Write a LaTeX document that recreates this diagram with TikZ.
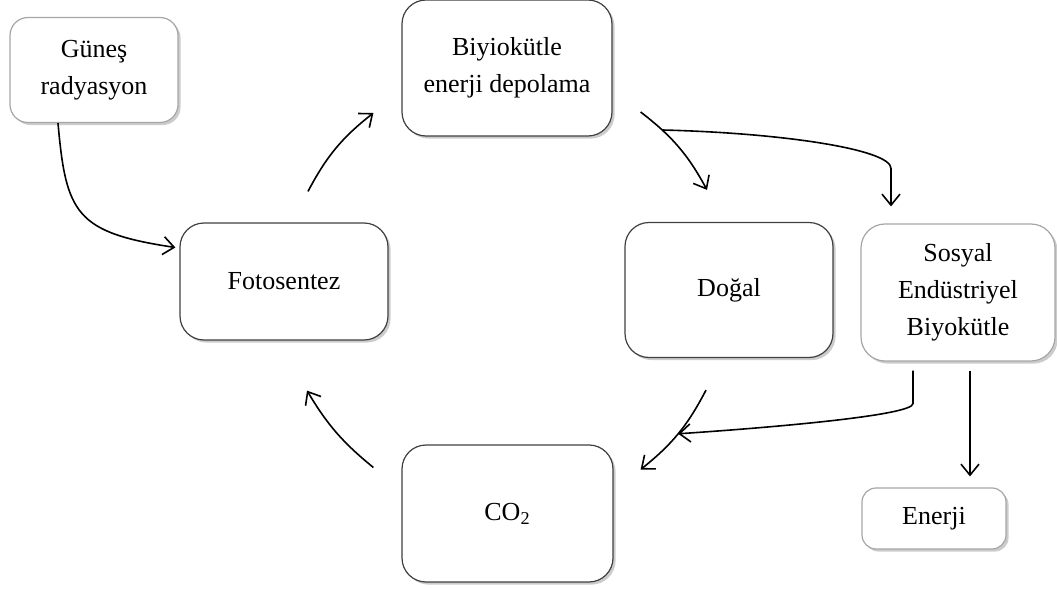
\documentclass[tikz,border=0pt]{standalone}
\usepackage{fontspec}
\setmainfont{Liberation Serif}
\usetikzlibrary{arrows.meta,shadows}
\begin{document}
\begin{tikzpicture}[x=0.5pt,y=0.5pt]
					\tikzstyle{every node}+=[inner sep=0pt]
					\tikzstyle{box}=[draw=black!75,line width=0.6pt,fill=white,rounded corners=12pt,align=center,font=\fontsize{13}{18.5}\selectfont,drop shadow={shadow xshift=1.3pt,shadow yshift=-1.3pt,opacity=0.4}]
					\tikzstyle{lightbox}=[box,draw=black!35]
					\tikzstyle{arr}=[line width=0.8pt,-{Straight Barb[length=5.5pt,width=9pt]}]
					\useasboundingbox (0,0) rectangle (1057,-589);
					\node [lightbox,rounded corners=9pt,minimum width=84pt,minimum height=52.5pt] (gunes) at (94,-70) {Güneş\\radyasyon};
					\node [box,minimum width=105pt,minimum height=68pt] (biyo) at (507,-68) {Biyiokütle\\enerji depolama};
					\node [box,minimum width=104pt,minimum height=58.5pt] (foto) at (284,-281.5) {Fotosentez};
					\node [box,minimum width=104pt,minimum height=67.5pt] (dogal) at (729,-290) {Doğal};
					\node [lightbox,minimum width=97pt,minimum height=68.5pt] (sosyal) at (958,-292.5) {Sosyal\\Endüstriyel\\Biyokütle};
					\node [box,minimum width=105.5pt,minimum height=68.5pt] (co2) at (507.5,-513.5) {CO\textsubscript{2}};
					\node [lightbox,rounded corners=7pt,minimum width=72pt,minimum height=30.5pt] (enerji) at (934,-518.5) {Enerji};
					\draw [arr] ([shift={(-36,0)}]gunes.south) .. controls +(8,-90) and +(-100,15) .. ([shift={(-4,34)}]foto.west);
					\draw [arr] ([shift={(24,31)}]foto.north) to[bend left=12] ([shift={(-28,-45)}]biyo.west);
					\draw [arr] ([shift={(28,-44)}]biyo.east) to[bend left=12] ([shift={(-22,32)}]dogal.north);
					\draw [arr] ([shift={(50,-62)}]biyo.east) .. controls +(120,-3) and +(0,19) .. ([shift={(-67,55)}]sosyal.north) -- ([shift={(-67,17)}]sosyal.north);
					\draw [arr] ([shift={(-23,-32)}]dogal.south) to[bend left=12] coordinate[pos=0.5] (merge) ([shift={(27,44)}]co2.east);
					\draw [arr] ([shift={(-45,-9)}]sosyal.south) -- ++(0,-33) .. controls +(0,-12) and +(90,6) .. (merge);
					\draw [arr] ([shift={(12,-9)}]sosyal.south) -- ([shift={(36,11)}]enerji.north);
					\draw [arr] ([shift={(-28,46)}]co2.west) to[bend left=10] ([shift={(23,-50)}]foto.south);
				\end{tikzpicture}
\end{document}
